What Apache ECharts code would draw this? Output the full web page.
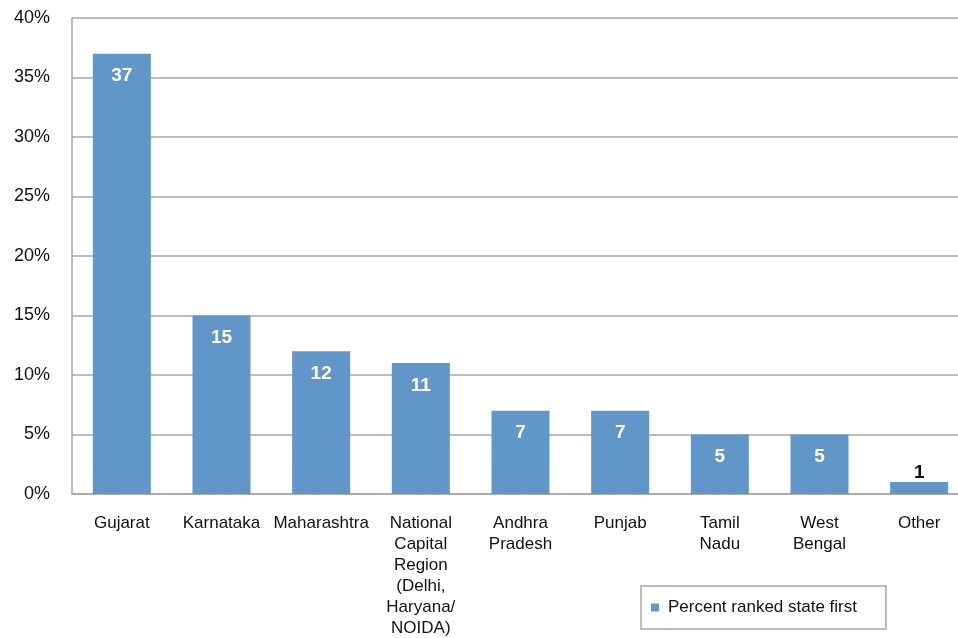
<!DOCTYPE html>
<html>
<head>
<meta charset="utf-8">
<script src="https://cdn.jsdelivr.net/npm/echarts@6/dist/echarts.min.js"></script>
<style>
  html, body { margin: 0; padding: 0; background: #fff; }
  #chart { width: 958px; height: 638px; }
</style>
</head>
<body>
<div id="chart"></div>
<script>
// Share of respondents ranking each state first (percent)
const categories = [
  'Gujarat', 'Karnataka', 'Maharashtra',
  'National\nCapital\nRegion\n(Delhi,\nHaryana/\nNOIDA)',
  'Andhra\nPradesh', 'Punjab', 'Tamil\nNadu', 'West\nBengal', 'Other'
];
const values = [37, 15, 12, 11, 7, 7, 5, 5, 1];
const yTicks = [0, 5, 10, 15, 20, 25, 30, 35, 40];
const seriesName = 'Percent ranked state first';

const font = 'Liberation Sans, Arial, Helvetica, sans-serif';
const barColor = '#6196C9';
const lineColor = '#a6a6a6';

const chart = echarts.init(document.getElementById('chart'), null, { renderer: 'canvas' });

// Small bars carry a dark label above; the rest a white label inside the top
const data = values.map(v => {
  const small = v < 3;
  return {
    value: v,
    label: small
      ? { position: 'top', color: '#111', distance: 0 }
      : { position: 'insideTop', color: '#fff', distance: 13 }
  };
});

chart.setOption({
  animation: false,
  textStyle: { fontFamily: font },
  // plot area runs slightly past the right edge of the canvas
  grid: { left: 72, top: 18, right: -11, bottom: 144, containLabel: false, outerBoundsMode: 'none' },
  legend: {
    left: 641, top: 586,
    padding: [13, 29, 13, 10],
    borderColor: lineColor, borderWidth: 1.5,
    itemWidth: 8, itemHeight: 8, itemGap: 6,
    icon: 'rect',
    textStyle: { fontFamily: font, fontSize: 17, color: '#111', padding: [0, 0, 0, 4] },
    data: [seriesName]
  },
  xAxis: {
    type: 'category',
    data: categories,
    axisLine: { lineStyle: { color: lineColor, width: 1.5 } },
    axisTick: { show: false },
    axisLabel: {
      interval: 0, margin: 19, fontSize: 17, lineHeight: 21,
      color: '#111', fontFamily: font, align: 'center'
    }
  },
  yAxis: {
    type: 'value',
    min: yTicks[0], max: yTicks[yTicks.length - 1], interval: 5,
    axisLine: { show: true, lineStyle: { color: lineColor, width: 1.5 } },
    axisTick: { show: false },
    splitLine: { show: true, lineStyle: { color: lineColor, width: 1.5 } },
    axisLabel: {
      formatter: v => v + '%', margin: 22, fontSize: 18,
      color: '#111', fontFamily: font
    }
  },
  series: [{
    name: seriesName,
    type: 'bar',
    data: data,
    barCategoryGap: '41.8%',
    itemStyle: { color: barColor },
    label: {
      show: true, fontSize: 19, fontWeight: 'bold', fontFamily: font
    }
  }]
});
</script>
</body>
</html>
